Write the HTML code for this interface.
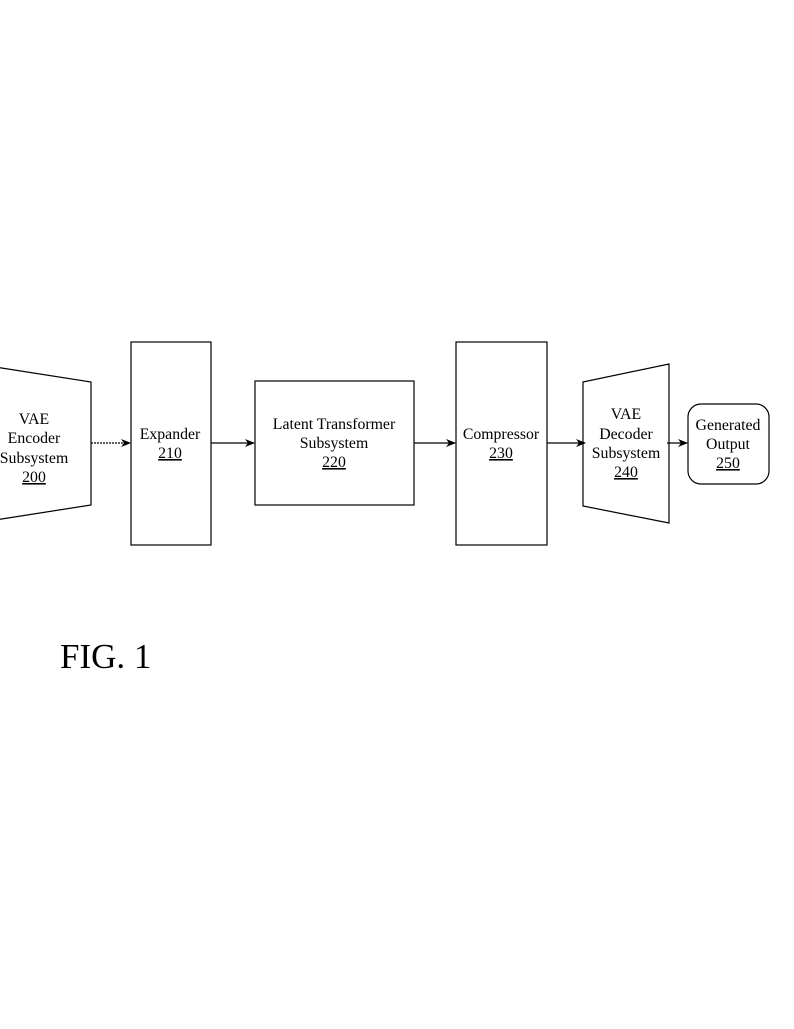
<!DOCTYPE html>
<html><head><style>body{margin:0;background:#fff}</style></head><body>
<svg width="794" height="1024" viewBox="0 0 794 1024" xmlns="http://www.w3.org/2000/svg" font-family="Liberation Serif, serif" font-size="15.8" fill="#000">
<defs><marker id="a" markerWidth="10" markerHeight="8" refX="9" refY="4" orient="auto" markerUnits="userSpaceOnUse"><path d="M0,0L10,4L0,8L3,4z" fill="#000"/></marker></defs>
<g fill="none" stroke="#000" stroke-width="1.2">
<polygon points="-5,367 91,382 91,505 -5,520"/>
<rect x="131" y="342" width="80" height="203"/>
<rect x="255" y="381" width="159" height="124"/>
<rect x="456" y="342" width="91" height="203"/>
<polygon points="583,382 669,364 669,523 583,506"/>
<rect x="688" y="404" width="81" height="80" rx="13"/>
<line x1="91" y1="443" x2="130" y2="443" marker-end="url(#a)" stroke-dasharray="2,1"/>
<line x1="211" y1="443" x2="254" y2="443" marker-end="url(#a)"/>
<line x1="414" y1="443" x2="455" y2="443" marker-end="url(#a)"/>
<line x1="547" y1="443" x2="585" y2="443" marker-end="url(#a)"/>
<line x1="667" y1="443" x2="687" y2="443" marker-end="url(#a)"/>
</g>
<g text-anchor="middle">
<text x="34" y="424">VAE</text><text x="34" y="443">Encoder</text><text x="34" y="463">Subsystem</text><text x="34" y="482" text-decoration="underline">200</text>
<text x="170" y="439">Expander</text><text x="170" y="458" text-decoration="underline">210</text>
<text x="334" y="429">Latent Transformer</text><text x="334" y="448">Subsystem</text><text x="334" y="467" text-decoration="underline">220</text>
<text x="501" y="439">Compressor</text><text x="501" y="458" text-decoration="underline">230</text>
<text x="626" y="419">VAE</text><text x="626" y="439">Decoder</text><text x="626" y="458">Subsystem</text><text x="626" y="477" text-decoration="underline">240</text>
<text x="728" y="430">Generated</text><text x="728" y="449">Output</text><text x="728" y="468" text-decoration="underline">250</text>
</g>
<text x="60" y="668" font-size="35">FIG. 1</text>
</svg>
</body></html>
